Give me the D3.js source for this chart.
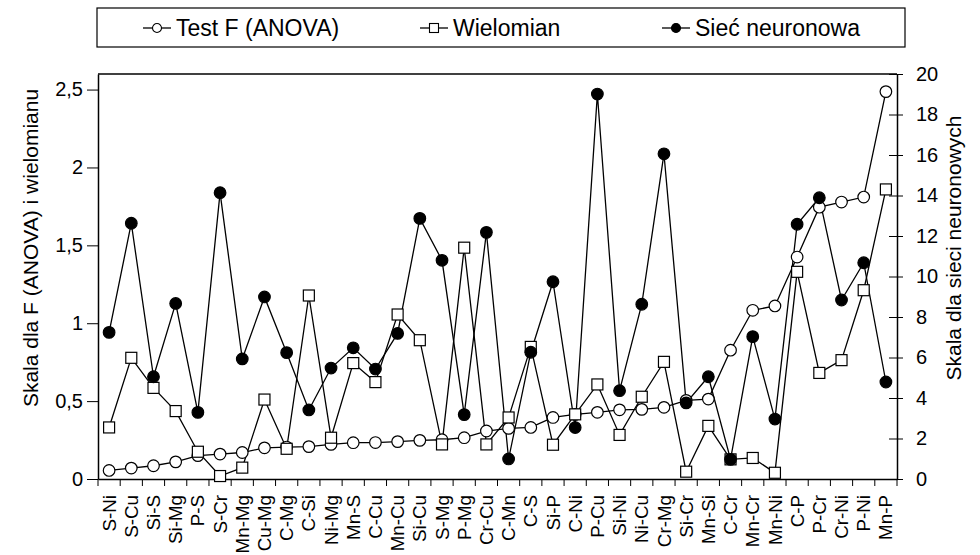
<!DOCTYPE html>
<html>
<head>
<meta charset="utf-8">
<script src="https://cdn.jsdelivr.net/npm/d3@7"></script>
<style>
  body { margin: 0; background: #fff; }
  svg text { font-family: "Liberation Sans", Arial, sans-serif; fill: #000; }
</style>
</head>
<body>
<svg id="chart" width="980" height="555"></svg>
<script>
// categories (pairs of elements)
const categories = ["S-Ni","S-Cu","Si-S","Si-Mg","P-S","S-Cr","Mn-Mg","Cu-Mg","C-Mg","C-Si",
  "Ni-Mg","Mn-S","C-Cu","Mn-Cu","Si-Cu","S-Mg","P-Mg","Cr-Cu","C-Mn","C-S",
  "Si-P","C-Ni","P-Cu","Si-Ni","Ni-Cu","Cr-Mg","Si-Cr","Mn-Si","C-Cr","Mn-Cr",
  "Mn-Ni","C-P","P-Cr","Cr-Ni","P-Ni","Mn-P"];

// Test F (ANOVA) - left axis
const anova = [0.055,0.07,0.085,0.11,0.15,0.16,0.17,0.2,0.205,0.208,
  0.222,0.233,0.234,0.24,0.248,0.252,0.265,0.308,0.325,0.331,
  0.395,0.415,0.428,0.444,0.447,0.46,0.505,0.513,0.827,1.083,
  1.111,1.425,1.745,1.778,1.81,2.487];

// Wielomian - left axis
const wielomian = [0.331,0.778,0.585,0.436,0.175,0.019,0.073,0.51,0.194,1.178,
  0.265,0.744,0.622,1.056,0.891,0.222,1.485,0.222,0.395,0.848,
  0.22,0.415,0.607,0.283,0.528,0.752,0.047,0.341,0.126,0.135,
  0.04,1.33,0.681,0.763,1.212,1.859];

// Siec neuronowa - right axis
const neural = [7.24,12.63,5.05,8.67,3.29,14.14,5.93,8.99,6.24,3.41,
  5.48,6.48,5.43,7.19,12.87,10.8,3.18,12.18,0.99,6.26,
  9.74,2.54,19.01,4.36,8.63,16.06,3.76,5.05,0.97,7.03,
  2.96,12.58,13.89,8.84,10.68,4.79];

const leftTicks = [0, 0.5, 1, 1.5, 2, 2.5];
const rightTicks = [0, 2, 4, 6, 8, 10, 12, 14, 16, 18, 20];

const margin = { top: 74, right: 83, bottom: 76, left: 98 };
const width = 980 - margin.left - margin.right;
const height = 555 - margin.top - margin.bottom;

const svg = d3.select('#chart');
const g = svg.append('g')
  .attr('transform', `translate(${margin.left},${margin.top})`);

const x = d3.scaleBand().domain(categories).range([0, width]).padding(0);
const cx = (_, i) => x(categories[i]) + x.bandwidth() / 2;
const yL = d3.scaleLinear().domain([0, 2.6]).range([height, 0]);
const yR = d3.scaleLinear().domain([0, 20]).range([height, 0]);

// frame top line
g.append('line')
  .attr('x1', 0).attr('x2', width).attr('y1', 0).attr('y2', 0)
  .attr('stroke', '#000').attr('stroke-width', 1.5);

// left axis
const axL = g.append('g')
  .call(d3.axisLeft(yL).tickValues(leftTicks)
    .tickFormat(d => String(d).replace('.', ','))
    .tickSize(11).tickSizeOuter(0).tickPadding(4));
axL.select('.domain').attr('stroke-width', 1.5);
axL.selectAll('text').style('font-size', '20px');

// right axis
const axR = g.append('g')
  .attr('transform', `translate(${width},0)`)
  .call(d3.axisRight(yR).tickValues(rightTicks)
    .tickSize(6).tickSizeOuter(0).tickPadding(13));
axR.select('.domain').attr('stroke-width', 1.5);
axR.selectAll('.tick line').attr('x1', -8);
axR.selectAll('text').style('font-size', '20px');

// bottom axis (labels from the band scale, ticks at band edges)
const axB = g.append('g')
  .attr('transform', `translate(0,${height})`)
  .call(d3.axisBottom(x).tickSize(0).tickSizeOuter(0));
axB.select('.domain').attr('stroke-width', 1.5);
axB.selectAll('text')
  .style('font-size', '18.8px')
  .attr('text-anchor', 'end')
  .attr('dy', '0.35em')
  .attr('transform', 'translate(0,16) rotate(-90)')
  .attr('x', 0).attr('y', 0);
axB.selectAll('.edge')
  .data(categories.concat(['end']))
  .enter().append('line')
  .attr('x1', (d, i) => i < categories.length ? x(d) : width)
  .attr('x2', (d, i) => i < categories.length ? x(d) : width)
  .attr('y1', 0).attr('y2', 7)
  .attr('stroke', '#000');

// axis titles
svg.append('text')
  .attr('transform', 'translate(38,248) rotate(-90)')
  .attr('text-anchor', 'middle')
  .style('font-size', '21px')
  .text('Skala dla F (ANOVA) i wielomianu');
svg.append('text')
  .attr('transform', 'translate(961,248) rotate(-90)')
  .attr('text-anchor', 'middle')
  .style('font-size', '21px')
  .text('Skala dla sieci neuronowych');

// series
const series = [
  { name: 'Test F (ANOVA)', data: anova, y: yL, shape: 'circle', fill: '#fff' },
  { name: 'Wielomian', data: wielomian, y: yL, shape: 'square', fill: '#fff' },
  { name: 'Sieć neuronowa', data: neural, y: yR, shape: 'circle', fill: '#000' }
];

series.forEach(s => {
  const line = d3.line().x(cx).y(d => s.y(d));
  g.append('path')
    .datum(s.data)
    .attr('d', line)
    .attr('fill', 'none')
    .attr('stroke', '#000')
    .attr('stroke-width', 1.3);
});

series.forEach(s => {
  if (s.shape === 'circle') {
    g.selectAll(null).data(s.data).enter().append('circle')
      .attr('cx', cx).attr('cy', d => s.y(d)).attr('r', 5.8)
      .attr('fill', s.fill).attr('stroke', '#000').attr('stroke-width', 1.2);
  } else {
    g.selectAll(null).data(s.data).enter().append('rect')
      .attr('x', (d, i) => cx(d, i) - 5.5).attr('y', d => s.y(d) - 5.5)
      .attr('width', 11).attr('height', 11)
      .attr('fill', s.fill).attr('stroke', '#000').attr('stroke-width', 1.2);
  }
});

// legend
const legend = svg.append('g');
legend.append('rect')
  .attr('x', 97).attr('y', 8).attr('width', 808).attr('height', 39)
  .attr('fill', '#fff').attr('stroke', '#000').attr('stroke-width', 1.2);
const legX = [157, 434, 676];
series.forEach((s, i) => {
  const lg = legend.append('g').attr('transform', `translate(${legX[i]},28)`);
  lg.append('line').attr('x1', -14).attr('x2', 14)
    .attr('stroke', '#000').attr('stroke-width', 1.3);
  if (s.shape === 'circle') {
    lg.append('circle').attr('r', 4.5)
      .attr('fill', s.fill).attr('stroke', '#000').attr('stroke-width', 1.1);
  } else {
    lg.append('rect').attr('x', -4.5).attr('y', -4.5).attr('width', 9).attr('height', 9)
      .attr('fill', s.fill).attr('stroke', '#000').attr('stroke-width', 1.1);
  }
  lg.append('text').attr('x', 19).attr('dy', '0.36em')
    .style('font-size', '23px')
    .text(s.name);
});
</script>
</body>
</html>
